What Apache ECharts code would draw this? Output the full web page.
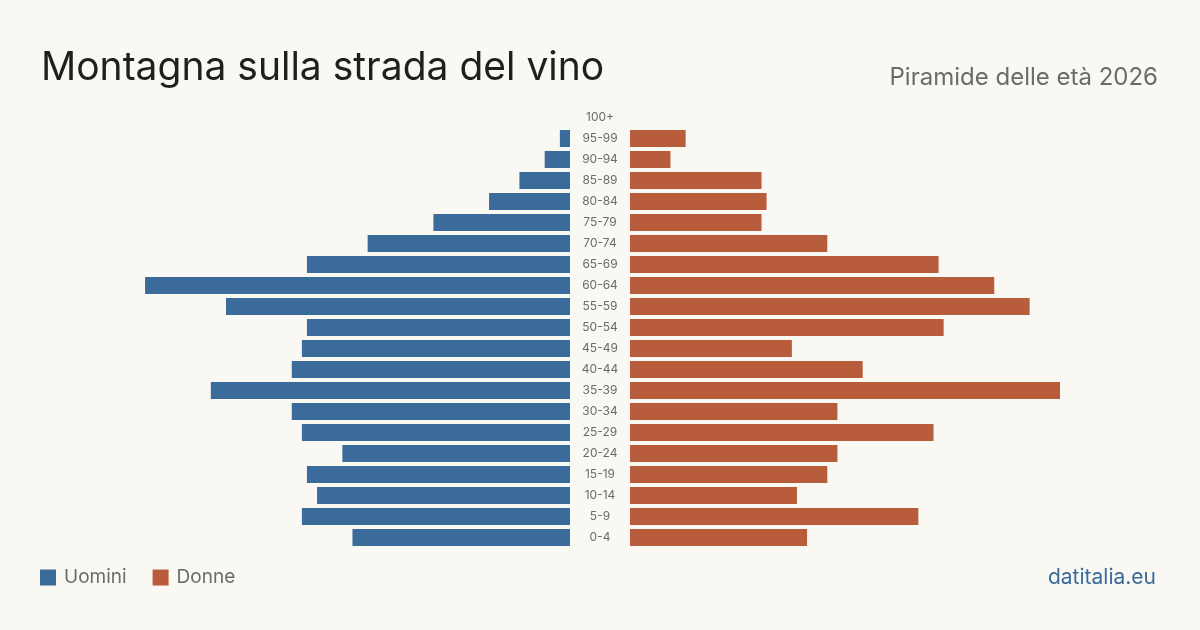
<!DOCTYPE html>
<html>
<head>
<meta charset="utf-8">
<style>
  html, body { margin: 0; padding: 0; background: #f9f8f3; }
  #chart-container { width: 1200px; height: 630px; }
</style>
<script src="https://cdn.jsdelivr.net/npm/echarts@6/dist/echarts.min.js"></script>
</head>
<body>
<div id="chart-container"></div>
<script>
const ageGroups = [
  "0-4", "5-9", "10-14", "15-19", "20-24", "25-29", "30-34", "35-39",
  "40-44", "45-49", "50-54", "55-59", "60-64", "65-69", "70-74",
  "75-79", "80-84", "85-89", "90-94", "95-99", "100+",
];

const uomini = [43, 53, 50, 52, 45, 53, 55, 71, 55, 53, 52, 68, 84, 52, 40, 27, 16, 10, 5, 2, 0];
const donne = [35, 57, 33, 39, 41, 60, 41, 85, 46, 32, 62, 79, 72, 61, 39, 26, 27, 26, 8, 11, 0];

const axisMax = 85;
const font = "Inter, 'Noto Sans', sans-serif";

const dom = document.getElementById("chart-container");
const myChart = echarts.init(dom, null, { renderer: "canvas" });

const option = {
  backgroundColor: "#f9f8f3",
  animation: false,
  textStyle: { fontFamily: font },
  title: [
    {
      text: "Montagna sulla strada del vino",
      left: 41,
      top: 49,
      padding: 0,
      textStyle: { fontSize: 39, fontWeight: "normal", color: "#1f1f1f", fontFamily: font },
    },
    {
      text: "Piramide delle età 2026",
      right: 42,
      top: 66,
      padding: 0,
      textStyle: { fontSize: 24, fontWeight: "normal", color: "#6b6b6b", fontFamily: font },
    },
    {
      text: "datitalia.eu",
      right: 44,
      top: 567,
      padding: 0,
      textStyle: { fontSize: 21, fontWeight: "normal", color: "#3b6b9b", fontFamily: font },
    },
  ],
  legend: {
    left: 40,
    top: 568,
    padding: 0,
    icon: "rect",
    itemWidth: 16,
    itemHeight: 16,
    itemGap: 26,
    textStyle: { fontSize: 19, color: "#6b6b6b", fontFamily: font, padding: [0, 0, 0, 3] },
    data: ["Uomini", "Donne"],
  },
  grid: [
    { left: 140, right: 630, top: 107, height: 441 },
    { left: 630, right: 140, top: 107, height: 441 },
  ],
  xAxis: [
    {
      gridIndex: 0, type: "value", inverse: true, min: 0, max: axisMax,
      show: false,
    },
    {
      gridIndex: 1, type: "value", min: 0, max: axisMax,
      show: false,
    },
  ],
  yAxis: [
    {
      gridIndex: 0, type: "category", data: ageGroups, position: "right",
      axisLine: { show: false }, axisTick: { show: false },
      axisLabel: { align: "center", margin: 30, fontSize: 12, color: "#6b6b6b", fontFamily: font },
    },
    {
      gridIndex: 1, type: "category", data: ageGroups,
      axisLine: { show: false }, axisTick: { show: false }, axisLabel: { show: false },
    },
  ],
  series: [
    {
      name: "Uomini", type: "bar", xAxisIndex: 0, yAxisIndex: 0,
      color: "#3b6b9b", barWidth: 17, data: uomini,
    },
    {
      name: "Donne", type: "bar", xAxisIndex: 1, yAxisIndex: 1,
      color: "#b95c3c", barWidth: 17, data: donne,
    },
  ],
};

myChart.setOption(option);
window.addEventListener("resize", myChart.resize);
</script>
</body>
</html>
